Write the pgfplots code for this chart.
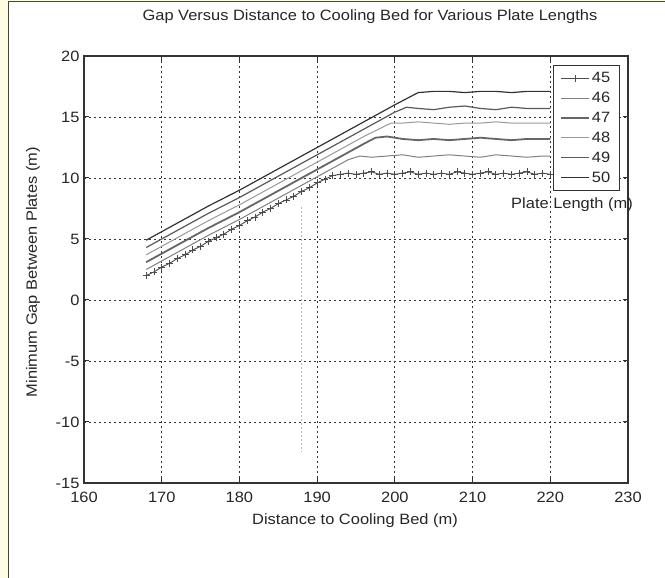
\documentclass[border=0pt]{standalone}
\usepackage{fontspec}
\setmainfont{Liberation Sans}
\newfontfamily\wide[FakeStretch=1.1]{Liberation Sans}
\usepackage{pgfplots}
\pgfplotsset{compat=1.18}
\definecolor{cream}{RGB}{255,252,228}
\definecolor{framec}{RGB}{70,70,50}
\newcommand{\fs}{\wide\fontsize{15}{17}\selectfont}
\begin{document}
\begin{tikzpicture}[x=1bp,y=1bp]
\useasboundingbox (0,0) rectangle (665,578);
\fill[cream] (0,0) rectangle (665,578);
\filldraw[fill=white,draw=framec,line width=1.5bp] (8.5,-5) rectangle (670,576.5);
\begin{axis}[
  at={(84bp,95bp)}, anchor=south west, scale only axis,
  width=544bp, height=427bp,
  xmin=160, xmax=230, ymin=-15, ymax=20,
  xtick={160,170,...,230}, ytick={-15,-10,...,20},
  xtick pos=both, ytick pos=both, tick align=inside,
  major tick length=5bp,
  grid=major,
  major grid style={black!80, line width=0.9bp, dash pattern=on 2bp off 3bp},
  axis line style={black!80, line width=1.2bp},
  tick style={black!80, line width=1bp},
  ticklabel style={font=\fs, text=black!85},
  xticklabel style={yshift=-6bp},
  yticklabel style={xshift=-1bp},
  /pgf/number format/assume math mode=true,
  /pgf/number format/1000 sep={},
  legend style={at={(0.985,0.979)}, anchor=north east, draw=black!80, line width=1.2bp,
    fill=white, font=\fs, text=black!85, row sep=4bp, inner xsep=7bp, inner ysep=5bp,
    cells={anchor=west}},
  legend image code/.code={\draw[mark repeat=2,mark phase=2,#1] plot coordinates {(0bp,0bp) (14bp,0bp) (28bp,0bp)};},
]
% spike
\addplot[gray!55, line width=0.8bp, dash pattern=on 2bp off 2bp, forget plot] coordinates {(188,7.6) (188,-12.5)};
% 45
\addplot[black!70, line width=0.9bp, mark=+, mark size=3.5bp, mark options={solid, line width=0.8bp}] coordinates {
(168,2.0)(169,2.3)(170,2.7)(171,3.0)(172,3.4)(173,3.7)(174,4.1)(175,4.4)(176,4.8)(177,5.1)
(178,5.4)(179,5.8)(180,6.1)(181,6.5)(182,6.8)(183,7.2)(184,7.5)(185,7.9)(186,8.2)(187,8.5)
(188,8.9)(189,9.2)(190,9.6)(191,9.9)(192,10.2)(193,10.3)(194,10.4)(195,10.3)(196,10.4)(197,10.5)
(198,10.3)(199,10.4)(200,10.3)(201,10.4)(202,10.5)(203,10.3)(204,10.4)(205,10.3)(206,10.4)(207,10.3)
(208,10.5)(209,10.4)(210,10.3)(211,10.4)(212,10.5)(213,10.3)(214,10.4)(215,10.3)(216,10.4)(217,10.5)
(218,10.3)(219,10.4)(220,10.3)};
\addlegendentry{45}
% 46
\addplot[black!50, line width=1bp] coordinates {
(168,2.5)(172,3.9)(176,5.3)(180,6.6)(184,8.0)(188,9.4)(192,10.8)(194,11.5)(195.5,11.8)(197,11.7)
(199,11.8)(201,11.9)(203,11.7)(205,11.8)(207,11.9)(209,11.8)(211,11.7)(213,11.9)(215,11.8)(217,11.7)
(219,11.8)(220,11.8)};
\addlegendentry{46}
% 47
\addplot[black!60, line width=1.8bp] coordinates {
(168,3.1)(172,4.5)(176,5.9)(180,7.2)(184,8.6)(188,10.0)(192,11.4)(196,12.8)(197.5,13.3)(199,13.4)
(201,13.2)(203,13.1)(205,13.2)(207,13.1)(209,13.2)(211,13.3)(213,13.2)(215,13.1)(217,13.2)(220,13.2)};
\addlegendentry{47}
% 48
\addplot[black!40, line width=1bp] coordinates {
(168,3.7)(172,5.1)(176,6.5)(180,7.8)(184,9.2)(188,10.6)(192,12.0)(196,13.4)(199.5,14.5)(201,14.5)
(203,14.6)(205,14.5)(207,14.4)(209,14.5)(211,14.5)(213,14.6)(215,14.5)(217,14.5)(220,14.5)};
\addlegendentry{48}
% 49
\addplot[black!65, line width=1.2bp] coordinates {
(168,4.3)(172,5.7)(176,7.1)(180,8.4)(184,9.8)(188,11.2)(192,12.6)(196,14.0)(200,15.4)(201.5,15.8)
(203,15.7)(205,15.6)(207,15.8)(209,15.9)(211,15.7)(213,15.6)(215,15.8)(217,15.7)(220,15.7)};
\addlegendentry{49}
% 50
\addplot[black!80, line width=1.2bp] coordinates {
(168,4.9)(172,6.3)(176,7.7)(180,9.0)(184,10.4)(188,11.8)(192,13.2)(196,14.6)(200,16.0)(203,17.0)
(205,17.1)(207,17.1)(209,17.0)(211,17.1)(213,17.1)(215,17.0)(217,17.1)(220,17.1)};
\addlegendentry{50}
\end{axis}
\node[font=\fs, text=black!85] at (370,561) {Gap Versus Distance to Cooling Bed for Various Plate Lengths};
\node[font=\fs, text=black!85] at (355,57) {Distance to Cooling Bed (m)};
\node[font=\fs, text=black!85, rotate=90] at (33,306) {Minimum Gap Between Plates (m)};
\node[font=\fs, text=black!85] at (572,373) {Plate Length (m)};
\end{tikzpicture}
\end{document}
